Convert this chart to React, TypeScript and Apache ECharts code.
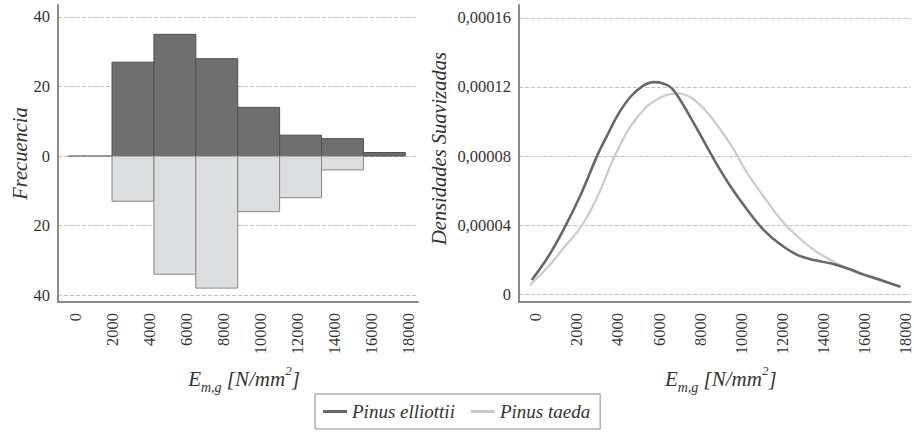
import React, { useEffect, useRef } from "react";
import * as echarts from "echarts";

const FONT = "'Liberation Serif', Tinos, 'Times New Roman', serif";
const TEXT = "#333333";
const AXIS = "#8a8a8a";
const GRID = "#c0c0c0";

// Histogram bins (E_m,g, N/mm²) and frequencies
const binEdges = [2000, 4265, 6530, 8795, 11060, 13325, 15590, 17855];
const elliottiiCounts = [27, 35, 28, 14, 6, 5, 1];
const taedaCounts = [13, 34, 38, 16, 12, 4, 0];
const zeroLine: [number, number][] = [[-380, 0], [2000, 0]];

// Tick values
const xTicks = [0, 2000, 4000, 6000, 8000, 10000, 12000, 14000, 16000, 18000];
const freqTicks = [-40, -20, 0, 20, 40];
const densTicks = [0, 0.00004, 0.00008, 0.00012, 0.00016];

// Smoothed densities
const elliottiiDensity: [number, number][] = [
  [-200, 8.1e-6], [600, 2.16e-5], [1400, 3.85e-5], [2200, 5.8e-5], [3000, 8.05e-5],
  [3500, 9.25e-5], [4000, 1.04e-4], [4600, 1.142e-4], [5200, 1.205e-4], [5750, 1.228e-4],
  [6200, 1.22e-4], [6600, 1.195e-4], [7000, 1.13e-4], [7500, 1.03e-4], [8000, 9.25e-5],
  [8700, 7.75e-5], [9500, 6.2e-5], [10300, 4.87e-5], [11100, 3.71e-5], [11950, 2.84e-5],
  [12750, 2.26e-5], [13550, 1.97e-5], [14350, 1.78e-5], [15150, 1.49e-5], [15950, 1.14e-5],
  [16800, 8.1e-6], [17750, 4.2e-6],
];
const taedaDensity: [number, number][] = [
  [-290, 5.2e-6], [600, 1.58e-5], [1400, 2.74e-5], [2200, 3.9e-5], [3000, 5.64e-5],
  [3800, 7.9e-5], [4600, 9.7e-5], [5400, 1.086e-4], [6000, 1.135e-4], [6500, 1.158e-4],
  [6900, 1.163e-4], [7300, 1.154e-4], [7700, 1.127e-4], [8200, 1.072e-4], [8700, 1.0e-4],
  [9500, 8.64e-5], [10300, 7.0e-5], [11100, 5.64e-5], [11950, 4.29e-5], [12750, 3.32e-5],
  [13550, 2.55e-5], [14350, 1.97e-5], [15150, 1.49e-5], [15950, 1.1e-5], [16800, 7.8e-6],
  [17750, 4.2e-6],
];

const histData = (counts: number[], sign: number) =>
  counts
    .map((c, i) => [binEdges[i], binEdges[i + 1], sign * c])
    .filter((d) => d[2] !== 0);

const makeHistSeries = (name: string, data: number[][], fill: string, stroke: string) => ({
  type: "custom",
  name,
  xAxisIndex: 0,
  yAxisIndex: 0,
  z: 3,
  encode: { x: [0, 1], y: 2 },
  data,
  renderItem: (_p: any, api: any) => {
    const a = api.coord([api.value(0), 0]);
    const b = api.coord([api.value(1), api.value(2)]);
    return {
      type: "rect",
      shape: {
        x: a[0],
        y: Math.min(a[1], b[1]),
        width: b[0] - a[0],
        height: Math.abs(b[1] - a[1]),
      },
      style: { fill, stroke, lineWidth: 1 },
    };
  },
});

const titleRich = {
  i: { fontFamily: FONT, fontStyle: "italic", fontSize: 21, color: TEXT, lineHeight: 30 },
  sub: { fontFamily: FONT, fontStyle: "italic", fontSize: 14, color: TEXT, lineHeight: 14, verticalAlign: "bottom" },
  sup: { fontFamily: FONT, fontStyle: "italic", fontSize: 13, color: TEXT, lineHeight: 18, verticalAlign: "top" },
};
const xTitle = "{i|E}{sub|m,g}{i| [N/mm}{sup|2}{i|]}";

const labelStyle = { fontFamily: FONT, fontSize: 16.5, color: TEXT };

const xAxisBase = (gridIndex: number, min: number, max: number) => ({
  type: "value",
  gridIndex,
  min,
  max,
  name: xTitle,
  nameLocation: "middle",
  nameGap: 62,
  nameTextStyle: { rich: titleRich, padding: [0, 0, 0, 12] },
  axisLine: { show: true, onZero: false, lineStyle: { color: AXIS, width: 2 } },
  axisTick: { show: false, customValues: xTicks },
  axisLabel: {
    ...labelStyle,
    rotate: 90,
    margin: 11,
    customValues: xTicks,
    formatter: (v: number) => String(v),
  },
  splitLine: { show: false },
});

const option = {
  animation: false,
  backgroundColor: "#ffffff",
  textStyle: { fontFamily: FONT },
  grid: [
    { left: 58, top: 5, width: 360, height: 297 },
    { left: 519, top: 5, right: 0, height: 297 },
  ],
  legend: {
    data: [
      { name: "Pinus elliottii", icon: "rect" },
      { name: "Pinus taeda", icon: "rect" },
    ],
    left: 315,
    top: 394,
    itemWidth: 24,
    itemHeight: 3,
    itemGap: 16,
    padding: [8, 10, 8, 8],
    borderColor: AXIS,
    borderWidth: 1,
    textStyle: { fontFamily: FONT, fontStyle: "italic", fontSize: 19, color: TEXT },
  },
  xAxis: [xAxisBase(0, -920, 18540), xAxisBase(1, -820, 18241)],
  yAxis: [
    {
      type: "value",
      gridIndex: 0,
      min: -42,
      max: 43.45,
      name: "Frecuencia",
      nameLocation: "middle",
      nameRotate: 90,
      nameGap: 28,
      nameTextStyle: { fontFamily: FONT, fontStyle: "italic", fontSize: 20.5, color: TEXT },
      axisLine: { show: true, onZero: false, lineStyle: { color: AXIS, width: 2 } },
      axisTick: { show: false, customValues: freqTicks },
      axisLabel: {
        ...labelStyle,
        margin: 8,
        customValues: freqTicks,
        formatter: (v: number) => String(Math.abs(v)),
      },
      splitLine: { show: true, lineStyle: { color: GRID, width: 1, type: [4, 2] } },
    },
    {
      type: "value",
      gridIndex: 1,
      min: -0.0000046,
      max: 0.0001675,
      name: "Densidades Suavizadas",
      nameLocation: "middle",
      nameRotate: 90,
      nameGap: 70,
      nameTextStyle: {
        fontFamily: FONT,
        fontStyle: "italic",
        fontSize: 20.5,
        color: TEXT,
        padding: [0, 0, 0, 10],
      },
      axisLine: { show: true, onZero: false, lineStyle: { color: AXIS, width: 2 } },
      axisTick: { show: false, customValues: densTicks },
      axisLabel: {
        ...labelStyle,
        margin: 8,
        customValues: densTicks,
        formatter: (v: number) => (Math.abs(v) < 1e-12 ? "0" : v.toFixed(5).replace(".", ",")),
      },
      splitLine: { show: true, lineStyle: { color: GRID, width: 1, type: [4, 2] } },
    },
  ],
  series: [
    {
      type: "line",
      name: "baseline",
      xAxisIndex: 0,
      yAxisIndex: 0,
      z: 1,
      data: zeroLine,
      showSymbol: false,
      silent: true,
      lineStyle: { color: "#7a7a7a", width: 1.5 },
    },
    makeHistSeries("elliottii hist", histData(elliottiiCounts, 1), "#6f6f6f", "#505050"),
    makeHistSeries("taeda hist", histData(taedaCounts, -1), "#dcdddf", "#858585"),
    {
      type: "line",
      name: "Pinus taeda",
      xAxisIndex: 1,
      yAxisIndex: 1,
      data: taedaDensity,
      smooth: 0.35,
      showSymbol: false,
      itemStyle: { color: "#cbcbcb" },
      lineStyle: { color: "#cbcbcb", width: 2.2 },
      z: 3,
    },
    {
      type: "line",
      name: "Pinus elliottii",
      xAxisIndex: 1,
      yAxisIndex: 1,
      data: elliottiiDensity,
      smooth: 0.35,
      showSymbol: false,
      itemStyle: { color: "#686868" },
      lineStyle: { color: "#686868", width: 2.6 },
      z: 4,
    },
  ],
};

export default function App() {
  const ref = useRef<HTMLDivElement>(null);
  useEffect(() => {
    if (!ref.current) return;
    const chart = echarts.init(ref.current, null, { renderer: "svg" });
    chart.setOption(option as any);
    return () => chart.dispose();
  }, []);
  return (
    <div
      ref={ref}
      style={{ position: "absolute", left: 0, top: 0, width: 914, height: 432, background: "#fff" }}
    />
  );
}
